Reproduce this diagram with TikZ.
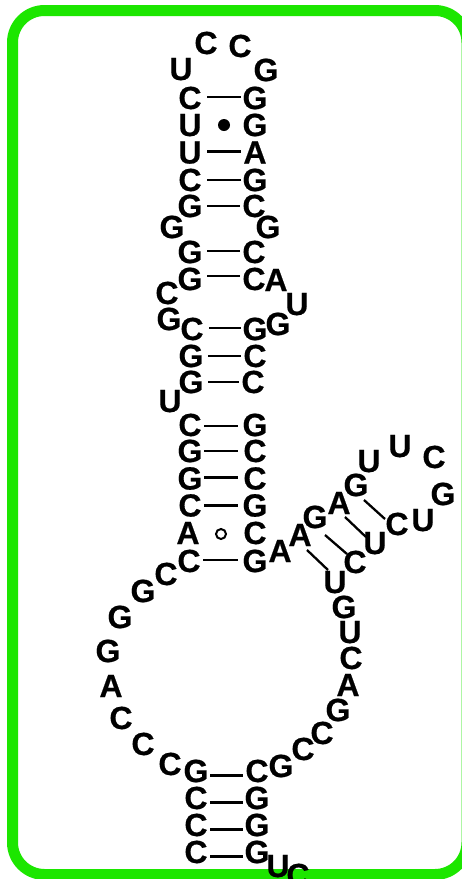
\documentclass[tikz,border=0pt]{standalone}
\usepackage{fontspec}
\setmainfont[BoldFeatures={FakeBold=0.5}]{Liberation Sans}
\definecolor{framegreen}{HTML}{1CE600}
\begin{document}
\begin{tikzpicture}[x=1pt,y=-1pt]
  \tikzstyle{base}=[inner sep=0pt,text height=22pt,text depth=0pt,font=\fontsize{32}{32}\selectfont\bfseries]
  \tikzstyle{pairline}=[draw,line width=2.3pt]
  \tikzstyle{gtdot}=[circle,fill=black,inner sep=0pt,minimum size=12pt]
  \tikzstyle{agring}=[circle,draw=black,line width=2pt,inner sep=0pt,minimum size=10pt]
  \tikzstyle{frame}=[draw=framegreen,fill=white,line width=11pt,rounded corners=32pt]
  \useasboundingbox (0,0) rectangle (462,879);
  \draw[frame] (12.5,10.5) rectangle (467,874.5);
  % hairpin loop
  \node[base] (h1) at (181,69) {U};
  \node[base] (h2) at (206,43) {C};
  \node[base] (h3) at (240,46) {C};
  \node[base] (h4) at (266,70) {G};
  % upper stem
  \node[base] (l1) at (190,98) {C};
  \node[base] (r1) at (255,98) {G};
  \node[base] (l2) at (190,125) {U};
  \node[base] (r2) at (255,125) {G};
  \node[gtdot] (d1) at (224,125) {};
  \node[base] (l3) at (190,152.5) {U};
  \node[base] (r3) at (255,152.5) {A};
  \node[base] (l4) at (190,180) {C};
  \node[base] (r4) at (255,180) {G};
  \node[base] (l5) at (190,206) {G};
  \node[base] (r5) at (254,206) {C};
  \node[base] (b1) at (172,227) {G};
  \node[base] (b2) at (268,227) {G};
  \node[base] (l6) at (190,252) {G};
  \node[base] (r6) at (254,252) {C};
  \node[base] (l7) at (190,279) {G};
  \node[base] (r7) at (254,279) {C};
  \node[base] (b3) at (276,280) {A};
  \node[base] (b4) at (167,293) {C};
  \node[base] (b5) at (297,304) {U};
  \node[base] (b6) at (169,319) {G};
  \node[base] (b7) at (278,324) {G};
  \node[base] (l8) at (192,329) {C};
  \node[base] (r8) at (255,329) {G};
  \node[base] (l9) at (191,356) {G};
  \node[base] (r9) at (255,356) {C};
  \node[base] (l10) at (191,382) {G};
  \node[base] (r10) at (253,382) {C};
  \node[base] (b8) at (170,401) {U};
  % lower stem
  \node[base] (l11) at (190,425) {C};
  \node[base] (r11) at (255,425) {G};
  \node[base] (l12) at (190,451) {G};
  \node[base] (r12) at (255,451) {C};
  \node[base] (l13) at (190,478.5) {G};
  \node[base] (r13) at (255,478.5) {C};
  \node[base] (l14) at (190,505.5) {C};
  \node[base] (r14) at (255,505.5) {G};
  \node[base] (l15) at (188,533) {A};
  \node[base] (r15) at (255,533) {C};
  \node[agring] (d2) at (221,534) {};
  \node[base] (l16) at (189,561) {C};
  \node[base] (r16) at (255,561) {G};
  % big loop, left side
  \node[base] (m1) at (166,574) {C};
  \node[base] (m2) at (143,591) {G};
  \node[base] (m3) at (120,617) {G};
  \node[base] (m4) at (108,651) {G};
  \node[base] (m5) at (111,686) {A};
  \node[base] (m6) at (121,718) {C};
  \node[base] (m7) at (143,744) {C};
  \node[base] (m8) at (170,764) {C};
  % bottom stem
  \node[base] (l17) at (196,771) {G};
  \node[base] (r17) at (257,771) {C};
  \node[base] (l18) at (196,798) {C};
  \node[base] (r18) at (257,798) {G};
  \node[base] (l19) at (196,825) {C};
  \node[base] (r19) at (257,825) {G};
  \node[base] (l20) at (196,852) {C};
  \node[base] (r20) at (257,852) {G};
  \node[base] (t1) at (278,866) {U};
  \node[base] (t2) at (298,875) {C};
  % big loop, right side
  \node[base] (n1) at (281,766) {G};
  \node[base] (n2) at (303,749) {C};
  \node[base] (n3) at (322,733) {C};
  \node[base] (n4) at (338,710) {G};
  \node[base] (n5) at (348,685) {A};
  \node[base] (n6) at (351,658) {C};
  \node[base] (n7) at (350,632) {U};
  \node[base] (n8) at (344,607) {G};
  % side arm
  \node[base] (s1) at (280,551) {A};
  \node[base] (s2) at (300,535) {A};
  \node[base] (s3) at (315,517) {G};
  \node[base] (s4) at (339,503) {A};
  \node[base] (s5) at (356,485) {G};
  \node[base] (s6) at (369,461) {U};
  \node[base] (s7) at (400,446) {U};
  \node[base] (s8) at (434,457) {C};
  \node[base] (s9) at (443,494) {G};
  \node[base] (s10) at (423,520) {U};
  \node[base] (s11) at (397,524) {C};
  \node[base] (s12) at (375,543) {U};
  \node[base] (s13) at (355,562) {C};
  \node[base] (s14) at (335,582) {U};
  \foreach \a/\b/\dy in {l1/r1/1,l3/r3/1,l4/r4/0,l5/r5/0,l6/r6/1,l7/r7/3,l8/r8/1,l9/r9/0,l10/r10/0}
    \draw[pairline,shorten <=17pt,shorten >=14pt] ([yshift=\dy pt]\a.center) -- ([yshift=\dy pt]\b.center);
  \foreach \a/\b/\dy in {l11/r11/-1,l12/r12/0,l13/r13/1,l14/r14/0,l16/r16/1}
    \draw[pairline,shorten <=14pt,shorten >=17pt] ([yshift=\dy pt]\a.center) -- ([yshift=\dy pt]\b.center);
  \foreach \a/\b in {l17/r17,l18/r18,l19/r19,l20/r20}
    \draw[pairline,shorten <=14pt,shorten >=14pt] ([yshift=-4.5pt]\a.center) -- ([yshift=-4.5pt]\b.center);
  \foreach \a/\b/\ax/\ay/\bx/\by in {s2/s14/7/15/-7/-12,s3/s13/10/18/-8/-8,s4/s12/6/14/-9/-6,s5/s11/8/15/-12/-5}
    \draw[pairline] ([shift={(\ax,\ay)}]\a.center) -- ([shift={(\bx,\by)}]\b.center);
\end{tikzpicture}
\end{document}
